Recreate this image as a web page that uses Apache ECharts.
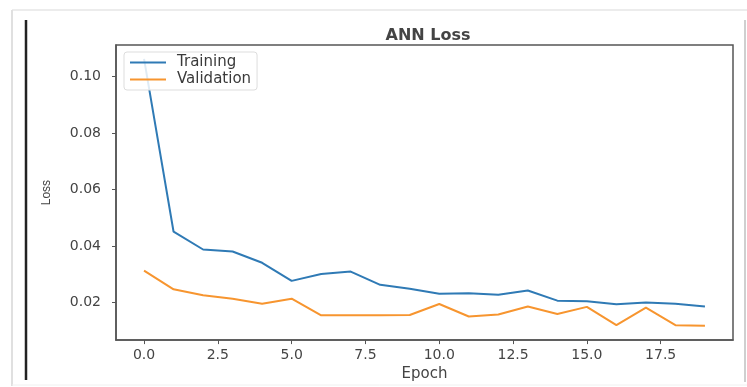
<!DOCTYPE html>
<html>
<head>
<meta charset="utf-8">
<script src="https://cdn.jsdelivr.net/npm/echarts@6/dist/echarts.min.js"></script>
<style>
html,body{margin:0;padding:0;background:#fff;}
#chart{width:747px;height:387px;}
</style>
</head>
<body>
<div id="chart"></div>
<script>
const epochs = [0,1,2,3,4,5,6,7,8,9,10,11,12,13,14,15,16,17,18,19];
const trainingLoss = [0.1063,0.0451,0.0388,0.0381,0.0341,0.0277,0.0301,0.0310,0.0263,0.0249,0.0231,0.0233,0.0228,0.0243,0.0207,0.0205,0.0194,0.0200,0.0196,0.0186];
const validationLoss = [0.0313,0.0247,0.0226,0.0214,0.0196,0.0214,0.0155,0.0155,0.0155,0.0156,0.0195,0.0151,0.0158,0.0186,0.0160,0.0185,0.0120,0.0182,0.0120,0.0118];
const xTicks = [0,2.5,5,7.5,10,12.5,15,17.5];
const yTicks = [0.02,0.04,0.06,0.08,0.10];

const chart = echarts.init(document.getElementById('chart'), null, {renderer:'canvas'});
const axisColor = '#555';
const labelColor = '#444';
const font = 'DejaVu Sans';

const option = {
  backgroundColor: '#fff',
  animation: false,
  title: {
    text: 'ANN Loss',
    left: 423,
    top: 23,
    textAlign: 'center',
    textStyle: {fontFamily: font, fontSize: 16, fontWeight: 'bold', color: '#444'}
  },
  legend: {
    orient: 'vertical',
    left: 124,
    top: 52,
    icon: 'rect',
    itemWidth: 36,
    itemHeight: 2,
    itemGap: 2,
    padding: [3, 6, 3, 6],
    borderColor: '#ddd',
    borderWidth: 1,
    borderRadius: 3,
    backgroundColor: 'rgba(255,255,255,0.85)',
    textStyle: {fontFamily: font, fontSize: 15, color: '#3a3a3a', padding: [0,0,0,6]},
    data: ['Training', 'Validation']
  },
  grid: {
    left: 116, right: 14, top: 45, bottom: 45,
    show: true, borderColor: axisColor, borderWidth: 1.5, backgroundColor: '#fff'
  },
  xAxis: {
    type: 'value',
    min: -0.95, max: 19.95,
    name: 'Epoch',
    nameLocation: 'middle',
    nameGap: 22,
    nameTextStyle: {fontFamily: font, fontSize: 15, color: labelColor},
    axisLine: {show: true, onZero: false, lineStyle: {color: axisColor, width: 1.5}},
    axisTick: {show: true, inside: false, length: 4, lineStyle: {color: axisColor}, customValues: xTicks},
    axisLabel: {fontFamily: font, fontSize: 14, color: labelColor, margin: 8, customValues: xTicks,
      formatter: v => Number(v).toFixed(1)},
    splitLine: {show: false}
  },
  yAxis: {
    type: 'value',
    min: 0.00673, max: 0.1112,
    name: 'Loss',
    nameLocation: 'middle',
    nameRotate: 90,
    nameGap: 63,
    nameTextStyle: {fontFamily: 'Liberation Sans', fontSize: 12, color: labelColor},
    axisLine: {show: true, onZero: false, lineStyle: {color: axisColor, width: 1.5}},
    axisTick: {show: true, inside: false, length: 4, lineStyle: {color: axisColor}, customValues: yTicks},
    axisLabel: {fontFamily: font, fontSize: 14, color: labelColor, margin: 15, customValues: yTicks,
      formatter: v => Number(v).toFixed(2)},
    splitLine: {show: false}
  },
  series: [
    {
      name: 'Training', type: 'line', symbol: 'none',
      data: epochs.map((e, i) => [e, trainingLoss[i]]),
      lineStyle: {color: '#2f7ab5', width: 2},
      itemStyle: {color: '#2f7ab5'}
    },
    {
      name: 'Validation', type: 'line', symbol: 'none',
      data: epochs.map((e, i) => [e, validationLoss[i]]),
      lineStyle: {color: '#f7952f', width: 2},
      itemStyle: {color: '#f7952f'}
    }
  ],
  graphic: [
    {type: 'line', shape: {x1: 12, y1: 10, x2: 747, y2: 10}, style: {stroke: '#e6e6e6', lineWidth: 1.5}, silent: true},
    {type: 'line', shape: {x1: 12, y1: 10, x2: 12, y2: 386}, style: {stroke: '#e0e0e0', lineWidth: 2}, silent: true},
    {type: 'line', shape: {x1: 12, y1: 385, x2: 747, y2: 385}, style: {stroke: '#f0f0f0', lineWidth: 1}, silent: true},
    {type: 'line', shape: {x1: 26, y1: 20, x2: 26, y2: 380}, style: {stroke: '#222', lineWidth: 2.5}, silent: true},
    {type: 'line', shape: {x1: 745, y1: 20, x2: 745, y2: 382}, style: {stroke: '#cfcfcf', lineWidth: 2}, silent: true}
  ]
};
chart.setOption(option);
</script>
</body>
</html>
